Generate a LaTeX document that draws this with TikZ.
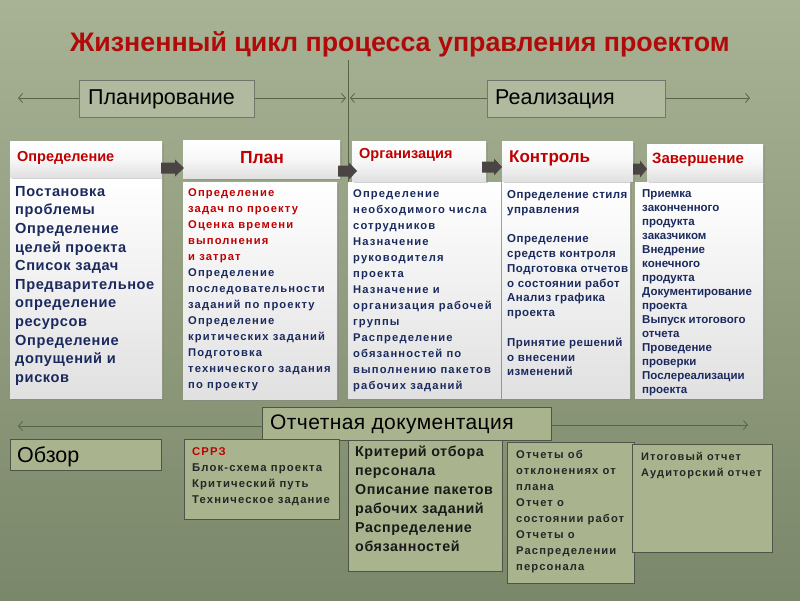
\documentclass[tikz,border=0pt]{standalone}
\usepackage{fontspec}
\setmainfont{Liberation Sans}
\newfontfamily\spaced[LetterSpace=10]{Liberation Sans}
\newfontfamily\lspaced[LetterSpace=4]{Liberation Sans}
\newfontfamily\sspaced[LetterSpace=2]{Liberation Sans}
\usetikzlibrary{arrows.meta,shadows}
\definecolor{bgtop}{HTML}{A8B294}
\definecolor{bgbot}{HTML}{7B876A}
\definecolor{olivebox}{HTML}{A9B48F}
\definecolor{boxline}{HTML}{4F5448}
\definecolor{navy}{HTML}{1B2A5E}
\definecolor{hred}{HTML}{C00000}
\definecolor{tred}{HTML}{B00A0A}
\definecolor{arrowgray}{HTML}{4A4444}
\definecolor{thinline}{HTML}{56654A}
\tikzset{
  olive/.style={draw=boxline, line width=0.8pt, fill=olivebox, inner sep=0, anchor=north west},
  hdrbox/.style={inner sep=0, anchor=north west, top color=white, bottom color=black!12!white, middle color=black!3!white,
     drop shadow={opacity=0.35, shadow xshift=1.5pt, shadow yshift=-1.5pt}},
  bodybox/.style={inner sep=0, anchor=north west, top color=white, bottom color=red!4!black!12!white,
     drop shadow={opacity=0.35, shadow xshift=1.5pt, shadow yshift=-1.5pt}},
  txt/.style={inner sep=0, anchor=north west, align=left},
  thinarrow/.style={draw=thinline, line width=0.8pt, -{Straight Barb[length=4pt,width=9pt]}},
  blockarrow/.style={fill=arrowgray, draw=none},
}
\begin{document}
\begin{tikzpicture}[x=1pt,y=-1pt]
\useasboundingbox (0,0) rectangle (800,600);
\shade[top color=bgtop, bottom color=bgbot] (0,0) rectangle (800,600);

% title
\node[inner sep=0, text=tred, font=\bfseries\fontsize{26.8}{30}\selectfont] (title) at (400,44) {Жизненный цикл процесса управления проектом};

% vertical divider
\coordinate (vtop) at (348,60);
\coordinate (vbot) at (348,182);
\draw[draw=thinline, line width=0.8pt] (vtop) -- (vbot);

% phase boxes
\node[olive, draw=boxline!80, fill=bgtop!90!white, minimum width=175pt, minimum height=37pt] (plan) at (79,80) {};
\node[inner sep=0, anchor=west, font=\fontsize{21.5}{24}\selectfont] (plant) at (88,99) {Планирование};
\node[olive, draw=boxline!80, fill=bgtop!90!white, minimum width=178pt, minimum height=37pt] (real) at (487,80) {};
\node[inner sep=0, anchor=west, font=\fontsize{21.5}{24}\selectfont] (realt) at (495,99) {Реализация};

\coordinate (pl) at (18,98);
\coordinate (pr) at (346,98);
\coordinate (rl) at (350,98);
\coordinate (rr) at (750,98);
\draw[thinarrow] (plan.west |- pl) -- (pl);
\draw[thinarrow] (plan.east |- pr) -- (pr);
\draw[thinarrow] (real.west |- rl) -- (rl);
\draw[thinarrow] (real.east |- rr) -- (rr);

% header & body boxes
\node[bodybox, minimum width=152pt, minimum height=221pt] (b1) at (10,177) {};
\node[hdrbox, minimum width=152pt, minimum height=36pt] (h1) at (10,141) {};
\node[bodybox, minimum width=154pt, minimum height=217pt] (b2) at (183,182) {};
\node[hdrbox, minimum width=157pt, minimum height=38pt] (h2) at (183,140) {};
\node[bodybox, minimum width=153pt, minimum height=216pt] (b3) at (348,182) {};
\node[hdrbox, minimum width=134pt, minimum height=40pt] (h3) at (352,141) {};
\node[bodybox, minimum width=128pt, minimum height=216pt] (b4) at (502,182) {};
\node[hdrbox, minimum width=131pt, minimum height=40pt] (h4) at (502,141) {};
\node[bodybox, minimum width=128pt, minimum height=216pt] (b5) at (635,182) {};
\node[hdrbox, minimum width=116pt, minimum height=37pt] (h5) at (647,144) {};

% block arrows
\fill[blockarrow] (161,162.5) -- (175,162.5) -- (175,159.5) -- (184,168) -- (175,176.5) -- (175,173.5) -- (161,173.5) -- cycle;
\fill[blockarrow] (338,165.5) -- (349,165.5) -- (349,162.5) -- (357,171) -- (349,179.5) -- (349,176.5) -- (338,176.5) -- cycle;
\fill[blockarrow] (482,161.5) -- (494,161.5) -- (494,158.5) -- (502,167) -- (494,175.5) -- (494,172.5) -- (482,172.5) -- cycle;
\fill[blockarrow] (633,163.5) -- (640,163.5) -- (640,160.5) -- (647,169) -- (640,177.5) -- (640,174.5) -- (633,174.5) -- cycle;

% header texts
\node[inner sep=0, anchor=west, text=hred, font=\bfseries\fontsize{14.5}{16}\selectfont] (h1t) at (17,158) {Определение};
\node[inner sep=0, text=hred, font=\bfseries\fontsize{17.5}{20}\selectfont] (h2t) at (262,158) {План};
\node[inner sep=0, anchor=west, text=hred, font=\bfseries\fontsize{14.5}{16}\selectfont] (h3t) at (359,155) {Организация};
\node[inner sep=0, anchor=west, text=hred, font=\bfseries\fontsize{17}{20}\selectfont] (h4t) at (509,158) {Контроль};
\node[inner sep=0, anchor=west, text=hred, font=\bfseries\fontsize{15}{18}\selectfont] (h5t) at (652,160) {Завершение};

% body texts
\node[txt, text=navy, font=\lspaced\bfseries\fontsize{14.6}{18.6}\selectfont] (t1) at (15,186) {Постановка\\проблемы\\Определение\\целей проекта\\Список задач\\Предварительное\\определение\\ресурсов\\Определение\\допущений и\\рисков};

\node[txt, font=\spaced\bfseries\fontsize{11.2}{16}\selectfont] (t2) at (188,188) {\textcolor{hred}{Определение}\\\textcolor{hred}{задач по проекту}\\\textcolor{hred}{Оценка времени}\\\textcolor{hred}{выполнения}\\\textcolor{hred}{и затрат}\\\textcolor{navy}{Определение}\\\textcolor{navy}{последовательности}\\\textcolor{navy}{заданий по проекту}\\\textcolor{navy}{Определение}\\\textcolor{navy}{критических заданий}\\\textcolor{navy}{Подготовка}\\\textcolor{navy}{технического задания}\\\textcolor{navy}{по проекту}};

\node[txt, text=navy, font=\spaced\bfseries\fontsize{11.2}{16}\selectfont] (t3) at (353,189) {Определение\\необходимого числа\\сотрудников\\Назначение\\руководителя\\проекта\\Назначение и\\организация рабочей\\группы\\Распределение\\обязанностей по\\выполнению пакетов\\рабочих заданий};

\node[txt, text=navy, font=\lspaced\bfseries\fontsize{11.5}{14.8}\selectfont] (t4) at (507,190) {Определение стиля\\управления\\[14.8pt]Определение\\средств контроля\\Подготовка отчетов\\о состоянии работ\\Анализ графика\\проекта\\[14.8pt]Принятие решений\\о внесении\\изменений};

\node[txt, text=navy, font=\bfseries\fontsize{11.5}{14}\selectfont] (t5) at (642,189) {Приемка\\законченного\\продукта\\заказчиком\\Внедрение\\конечного\\продукта\\Документирование\\проекта\\Выпуск итогового\\отчета\\Проведение\\проверки\\Послереализации\\проекта};

% bottom section
\node[olive, minimum width=289pt, minimum height=33pt] (rep) at (262,407) {};
\node[inner sep=0, anchor=west, font=\sspaced\fontsize{21}{24}\selectfont] (rept) at (270,424) {Отчетная документация};
\coordinate (ql) at (18,426);
\coordinate (qr) at (748,425);
\draw[thinarrow] (rep.west |- ql) -- (ql);
\draw[thinarrow] (rep.east |- qr) -- (qr);

\node[olive, minimum width=151pt, minimum height=31pt] (obz) at (10,439) {};
\node[inner sep=0, anchor=west, font=\fontsize{21.5}{24}\selectfont] (obzt) at (17,457) {Обзор};

\node[olive, minimum width=155pt, minimum height=80pt] (d2) at (184,439) {};
\node[txt, text=black!85, font=\spaced\bfseries\fontsize{11.3}{16}\selectfont] (d2t) at (192,447) {\textcolor{hred}{СРРЗ}\\Блок-схема проекта\\Критический путь\\Техническое задание};

\node[olive, minimum width=154pt, minimum height=131pt] (d3) at (348,440) {};
\node[txt, text=black!90, font=\lspaced\bfseries\fontsize{14.3}{19}\selectfont] (d3t) at (355,446) {Критерий отбора\\персонала\\Описание пакетов\\рабочих заданий\\Распределение\\обязанностей};

\node[olive, minimum width=127pt, minimum height=141pt] (d4) at (507,442) {};
\node[txt, text=black!85, font=\spaced\bfseries\fontsize{11.2}{16}\selectfont] (d4t) at (516,450) {Отчеты об\\отклонениях от\\плана\\Отчет о\\состоянии работ\\Отчеты о\\Распределении\\персонала};

\node[olive, minimum width=140pt, minimum height=108pt] (d5) at (632,444) {};
\node[txt, text=black!85, font=\spaced\bfseries\fontsize{11}{16}\selectfont] (d5t) at (641,452) {Итоговый отчет\\Аудиторский отчет};
\end{tikzpicture}
\end{document}
